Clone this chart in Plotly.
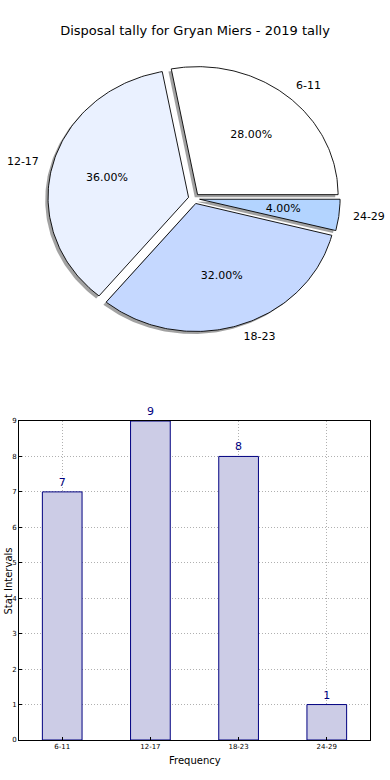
import numpy as np
import plotly.graph_objects as go

# ---- data ----
categories = ["6-11", "12-17", "18-23", "24-29"]
counts = [7, 9, 8, 1]
pie_colors = ["#ffffff", "#eaf1ff", "#c5d8ff", "#b3d4ff"]
explode = [0.04, 0.04, 0.04, 0.04]
title_text = "Disposal tally for Gryan Miers - 2019 tally"
ytick_vals = list(range(0, 10))

FONT = "DejaVu Sans"
fig = go.Figure()

W, H = 390, 780

# ---- pie drawn as filled wedges (elliptical, like a non-equal-aspect matplotlib pie) ----
total = float(sum(counts))
fracs = [c / total for c in counts]
starts = np.cumsum([0] + fracs[:-1]) * 360.0
ends = np.cumsum(fracs) * 360.0


def wedge(i, ox=0.0, oy=0.0):
    a0, a1 = starts[i], ends[i]
    mid = np.deg2rad((a0 + a1) / 2)
    cx = explode[i] * np.cos(mid) + ox
    cy = explode[i] * np.sin(mid) + oy
    th = np.deg2rad(np.linspace(a0, a1, 120))
    xs = np.concatenate([[cx], cx + np.cos(th), [cx]])
    ys = np.concatenate([[cy], cy + np.sin(th), [cy]])
    return xs, ys, cx, cy, mid

# shadows
for i in range(len(counts)):
    xs, ys, *_ = wedge(i, -0.02, -0.02)
    fig.add_trace(go.Scatter(x=xs, y=ys, mode="lines", fill="toself",
                             fillcolor="rgba(70,70,70,0.5)", line=dict(width=0),
                             xaxis="x2", yaxis="y2", hoverinfo="skip", showlegend=False))
# wedges
lab_x, lab_y, lab_pos, pct_x, pct_y, pct_t = [], [], [], [], [], []
for i in range(len(counts)):
    xs, ys, cx, cy, mid = wedge(i)
    fig.add_trace(go.Scatter(x=xs, y=ys, mode="lines", fill="toself",
                             fillcolor=pie_colors[i], line=dict(width=0.9, color="black"),
                             xaxis="x2", yaxis="y2", hoverinfo="skip", showlegend=False))
    lab_x.append(cx + 1.1 * np.cos(mid))
    lab_y.append(cy + 1.1 * np.sin(mid))
    lab_pos.append("middle right" if np.cos(mid) > 0 else "middle left")
    pct_x.append(cx + 0.6 * np.cos(mid))
    pct_y.append(cy + 0.6 * np.sin(mid))
    pct_t.append(f"{fracs[i]*100:.2f}%")

fig.add_trace(go.Scatter(x=lab_x, y=lab_y, mode="text", text=categories,
                         textposition=lab_pos, textfont=dict(family=FONT, size=11, color="black"),
                         xaxis="x2", yaxis="y2", hoverinfo="skip", showlegend=False, cliponaxis=False))
fig.add_trace(go.Scatter(x=pct_x, y=pct_y, mode="text", text=pct_t,
                         textposition="middle center", textfont=dict(family=FONT, size=11, color="black"),
                         xaxis="x2", yaxis="y2", hoverinfo="skip", showlegend=False, cliponaxis=False))

# ---- bar chart ----
fig.add_trace(go.Bar(x=categories, y=counts, width=0.45,
                     marker=dict(color="#ccccE6", line=dict(color="#000080", width=1)),
                     text=[str(c) for c in counts], textposition="outside",
                     textfont=dict(family=FONT, size=11, color="#000080"),
                     cliponaxis=False, hoverinfo="skip", showlegend=False))

rx, ry = 140.5, 128.0
pcx, pcy = 194.0, 198.6
ptop, pbot = 50.0, 350.0

grid = dict(showgrid=True, gridcolor="#b0b0b0", griddash="1px,2px", gridwidth=1)

fig.update_layout(
    width=W, height=H,
    margin=dict(l=0, r=0, t=0, b=0),
    paper_bgcolor="white", plot_bgcolor="white",
    font=dict(family=FONT, color="black"),
    showlegend=False,
    title=dict(text=title_text, x=195 / W, xanchor="center", y=1 - 30 / H, yanchor="middle",
               font=dict(family=FONT, size=13, color="black")),
    xaxis2=dict(domain=[0, 1], range=[-pcx / rx, (W - pcx) / rx], visible=False, anchor="y2"),
    yaxis2=dict(domain=[1 - pbot / H, 1 - ptop / H], range=[-(pbot - pcy) / ry, (pcy - ptop) / ry],
                visible=False, anchor="x2"),
    xaxis=dict(domain=[19 / W, 370 / W], range=[-0.49, 3.49], anchor="y",
               showline=True, linecolor="black", linewidth=1, mirror=True,
               ticks="inside", ticklen=3, tickcolor="black",
               tickfont=dict(family=FONT, size=7, color="black"), automargin=False, **grid),
    yaxis=dict(domain=[1 - 740 / H, 1 - 421 / H], range=[0, 9], anchor="x",
               tickvals=ytick_vals, showline=True, linecolor="black", linewidth=1, mirror=True,
               ticks="inside", ticklen=3, tickcolor="black", zeroline=False,
               tickfont=dict(family=FONT, size=7, color="black"), automargin=False, **grid),
    annotations=[
        dict(text="Frequency", x=194.5 / W, y=1 - 760 / H, xref="paper", yref="paper",
             xanchor="center", yanchor="middle",
             showarrow=False, font=dict(family=FONT, size=10, color="black")),
        dict(text="Stat Intervals", x=0, xanchor="left", y=1 - 581 / H, yanchor="middle",
             yref="paper", xref="paper",
             textangle=-90, showarrow=False, font=dict(family=FONT, size=10, color="black")),
    ],
)

fig.write_html("out.html", config={"displayModeBar": False},
               post_script="document.body.style.margin='0';document.body.style.overflow='hidden';")
